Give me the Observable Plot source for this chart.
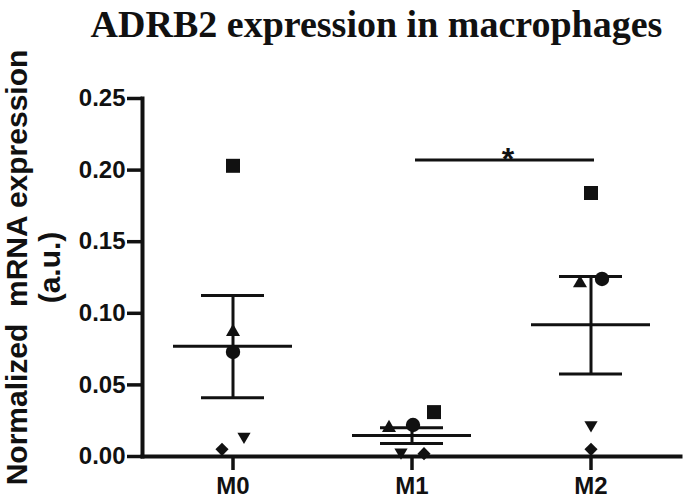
<!DOCTYPE html>
<html><head><meta charset="utf-8">
<script src="https://cdn.jsdelivr.net/npm/d3@7"></script>
<script src="https://cdn.jsdelivr.net/npm/@observablehq/plot@0.6"></script>
<style>
body{margin:0;background:#fff;}
#title{width:685px;height:56px;box-sizing:border-box;padding:2px 0 0 68px;text-align:center;font:bold 38px "Liberation Serif","Times New Roman",serif;line-height:44px;color:#111;white-space:nowrap;overflow:visible}
</style></head><body>
<div id="title"></div>
<div id="chart"></div>
<script>
// ---- data ----
const titleText = "ADRB2 expression in macrophages";
const yLabelLines = ["Normalized\u00a0 mRNA expression", "(a.u.)"];
const groups = ["M0", "M1", "M2"];
const subjects = ["square", "triangle", "circle", "triangleDown", "diamond"];
const valuesM0 = [0.203, 0.087, 0.073, 0.014, 0.005];
const valuesM1 = [0.031, 0.020, 0.022, 0.003, 0.002];
const valuesM2 = [0.184, 0.121, 0.124, 0.022, 0.005];
const means = [0.077, 0.0146, 0.092];
const semUpper = [0.1125, 0.020, 0.1257];
const semLower = [0.041, 0.009, 0.0576];
const yTicks = [0, 0.05, 0.10, 0.15, 0.20, 0.25];
const sigFrom = "M1", sigTo = "M2", sigLevel = 0.207, sigLabel = "*";

// ---- tables ----
const groupValues = [valuesM0, valuesM1, valuesM2];
const points = groups.flatMap((g, i) => groupValues[i].map((v, j) => ({group: g, subject: subjects[j], value: v})));
const stats = groups.map((g, i) => ({group: g, mean: means[i], hi: semUpper[i], lo: semLower[i]}));

// ---- styles ----
const symbolStyle = {
  square: {symbol: "square", r: 7.9, rotate: 0},
  triangle: {symbol: "triangle", r: 5.2, rotate: 0},
  circle: {symbol: "circle", r: 7.2, rotate: 0},
  triangleDown: {symbol: "triangle", r: 4.9, rotate: 180},
  diamond: {symbol: "diamond2", r: 5.9, rotate: 0}
};
// horizontal spreading of overlapping points (pixels), as in the original scatter
const spread = {
  M0: {triangleDown: 11, diamond: -11},
  M1: {square: 22, triangle: -23, circle: 1, triangleDown: -11, diamond: 12},
  M2: {triangle: -11, circle: 11}
};
const ink = "#111";

document.getElementById("title").textContent = titleText;

const dotMarks = points.map(p => {
  const s = symbolStyle[p.subject];
  return Plot.dot([p], {x: "group", y: "value", symbol: () => s.symbol, r: s.r, rotate: s.rotate,
    fill: ink, stroke: "none", dx: (spread[p.group] && spread[p.group][p.subject]) || 0});
});

const chart = Plot.plot({
  width: 685,
  height: 446,
  marginTop: 42,
  marginBottom: 46,
  marginLeft: 142,
  marginRight: 5,
  style: {fontFamily: '"Liberation Sans", Arial, sans-serif', color: ink, background: "white", overflow: "visible"},
  x: {domain: groups, type: "band", padding: 0},
  y: {domain: [0, 0.25]},
  symbol: {type: "identity"},
  marks: [
    Plot.axisY(yTicks, {tickSize: 15, tickPadding: 2, tickFormat: d3.format(".2f"), fontSize: 24, fontWeight: "bold", strokeWidth: 3.5, label: null}),
    Plot.axisX({tickSize: 14, tickPadding: 6, fontSize: 24, fontWeight: "bold", strokeWidth: 3.5, label: null}),
    Plot.frame({anchor: "left", strokeWidth: 4, stroke: ink}),
    Plot.frame({anchor: "bottom", strokeWidth: 4, stroke: ink}),
    Plot.ruleX(stats, {x: "group", y1: "lo", y2: "hi", strokeWidth: 3, stroke: ink}),
    Plot.tickY(stats, {x: "group", y: "mean", insetLeft: 30, insetRight: 30, strokeWidth: 3, stroke: ink}),
    Plot.tickY(stats, {x: "group", y: "hi", insetLeft: 58, insetRight: 58, strokeWidth: 3, stroke: ink}),
    Plot.tickY(stats, {x: "group", y: "lo", insetLeft: 58, insetRight: 58, strokeWidth: 3, stroke: ink}),
    ...dotMarks,
    Plot.link([{a: sigFrom, b: sigTo, y: sigLevel}], {x1: "a", x2: "b", y1: "y", y2: "y", strokeWidth: 3, stroke: ink, dx: 3}),
    Plot.text([{a: sigFrom, y: sigLevel}], {x: "a", y: "y", text: () => sigLabel, fontSize: 32, fontWeight: "bold", lineAnchor: "bottom", dx: 96, dy: 10, fill: ink}),
    Plot.text([yLabelLines.join("\n")], {frameAnchor: "left", rotate: -90, textAnchor: "middle", lineAnchor: "middle", lineHeight: 1.1,
      text: d => d, dx: -110, dy: -10, fontSize: 30, fontWeight: "bold", fill: ink})
  ]
});
document.getElementById("chart").appendChild(chart);
</script>
</body></html>
